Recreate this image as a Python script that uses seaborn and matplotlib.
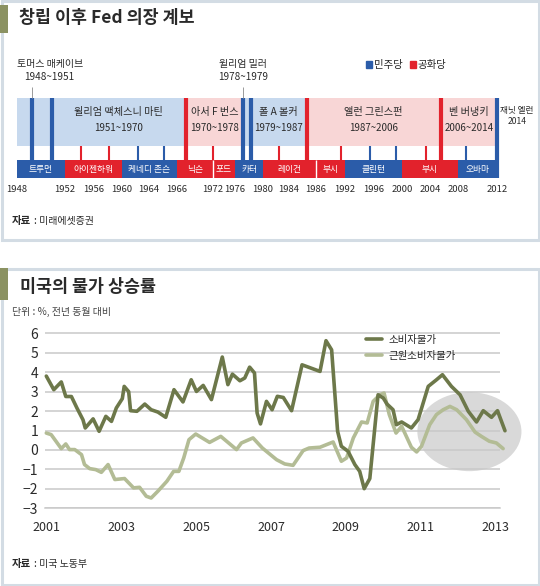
import numpy as np
import pandas as pd
import matplotlib.pyplot as plt
import seaborn as sns
from matplotlib.patches import Rectangle, Ellipse, Patch

sns.set_style("white")
plt.rcParams['font.family'] = ['Noto Sans CJK KR', 'DejaVu Sans']

# --- data: Fed chair timeline (years as printed on the graphic's own uneven axis) ---
tick_years = [1948, 1952, 1956, 1960, 1964, 1966, 1972, 1976, 1980, 1984,
              1986, 1992, 1996, 2000, 2004, 2008, 2012]

pres_names = ['트루먼', '아이젠하워', '케네디 존슨', '닉슨', '포드', '카터',
              '레이건', '부시', '클린턴', '부시', '오바마']
pres_party = ['D', 'R', 'D', 'R', 'R', 'D', 'R', 'R', 'D', 'R', 'D']
pres_start = [1948, 1952, 1960, 1966, 1972, 1976, 1980, 1986, 1992, 2000, 2008]
pres_end = [1952, 1960, 1966, 1972, 1976, 1980, 1986, 1992, 2000, 2008, 2012]

chair_names = ['토머스 매케이브', '윌리엄 맥체스니 마틴', '아서 F 번스', '윌리엄 밀러',
               '폴 A 볼커', '앨런 그린스펀', '벤 버냉키', '재닛 옐런']
chair_terms = ['1948~1951', '1951~1970', '1970~1978', '1978~1979',
               '1979~1987', '1987~2006', '2006~2014', '2014']
chair_party = ['D', 'D', 'R', 'D', 'D', 'R', 'R', 'D']
chair_mark = [1949.3, 1950.9, 1967.5, 1977.2, 1978.3, 1985.3, 2005.5, 2012]

term_mark = [1954.2, 1958.2, 1962.4, 1965.1, 1972.0, 1982.5, 1991.2,
             1995.4, 1999.1, 2003.4, 2008.8]
term_party = ['R', 'R', 'D', 'D', 'R', 'R', 'R', 'D', 'D', 'R', 'D']

# --- data: US inflation, % y/y ---
cpi_t = [2001.0, 2001.2, 2001.4, 2001.52, 2001.67, 2001.82, 2001.98, 2002.04, 2002.25,
         2002.41, 2002.59, 2002.74, 2002.87, 2003.03, 2003.08, 2003.2, 2003.25, 2003.42,
         2003.63, 2003.8, 2003.98, 2004.19, 2004.41, 2004.65, 2004.87, 2005.01, 2005.19,
         2005.41, 2005.7, 2005.85, 2005.97, 2006.17, 2006.3, 2006.43, 2006.56, 2006.63,
         2006.72, 2006.88, 2007.03, 2007.17, 2007.33, 2007.55, 2007.83, 2008.31, 2008.47,
         2008.62, 2008.78, 2008.88, 2009.06, 2009.24, 2009.37, 2009.49, 2009.64, 2009.86,
         2010.0, 2010.1, 2010.26, 2010.35, 2010.49, 2010.75, 2010.93, 2011.2, 2011.42,
         2011.58, 2011.82, 2012.05, 2012.27, 2012.49, 2012.67, 2012.89, 2013.05, 2013.25]
cpi_v = [3.8, 3.1, 3.5, 2.75, 2.75, 2.15, 1.55, 1.13, 1.6,
         0.96, 1.73, 1.47, 2.16, 2.64, 3.27, 3.0, 2.02, 1.99,
         2.36, 2.07, 1.95, 1.68, 3.1, 2.47, 3.61, 3.01, 3.32,
         2.59, 4.78, 3.36, 3.9, 3.56, 3.7, 4.26, 3.96, 1.9,
         1.34, 2.5, 2.07, 2.76, 2.7, 2.02, 4.38, 4.04, 5.62,
         5.15, 0.96, 0.19, -0.07, -0.75, -1.1, -1.99, -1.47, 2.84,
         2.67, 2.36, 2.07, 1.3, 1.44, 1.13, 1.56, 3.27, 3.61,
         3.87, 3.27, 2.84, 1.99, 1.44, 2.02, 1.68, 2.02, 0.99]

core_t = [2001.0, 2001.13, 2001.4, 2001.52, 2001.62, 2001.76, 2001.94, 2002.02, 2002.16,
          2002.32, 2002.47, 2002.65, 2002.83, 2003.09, 2003.33, 2003.49, 2003.67, 2003.8,
          2003.98, 2004.22, 2004.4, 2004.54, 2004.67, 2004.81, 2004.99, 2005.36, 2005.66,
          2006.08, 2006.21, 2006.52, 2006.77, 2007.15, 2007.37, 2007.59, 2007.86, 2008.02,
          2008.31, 2008.66, 2008.88, 2009.02, 2009.2, 2009.42, 2009.57, 2009.73, 2009.91,
          2010.02, 2010.16, 2010.34, 2010.49, 2010.75, 2010.89, 2011.02, 2011.24, 2011.42,
          2011.6, 2011.78, 2011.96, 2012.22, 2012.45, 2012.62, 2012.83, 2013.02, 2013.2]
core_v = [0.87, 0.79, 0.07, 0.31, 0.02, 0.02, -0.24, -0.75, -0.96,
          -1.01, -1.15, -0.75, -1.52, -1.47, -1.95, -1.92, -2.38, -2.47,
          -2.12, -1.61, -1.1, -1.1, -0.41, 0.53, 0.82, 0.39, 0.7,
          0.02, 0.36, 0.62, 0.1, -0.5, -0.72, -0.79, -0.03, 0.1,
          0.14, 0.41, -0.58, -0.41, 0.62, 1.44, 1.39, 2.5, 2.84,
          2.93, 1.82, 0.87, 1.22, 0.14, -0.1, 0.19, 1.3, 1.82,
          2.07, 2.24, 2.07, 1.56, 0.92, 0.7, 0.45, 0.36, 0.07]
series_names = ['소비자물가', '근원소비자물가']

# --- styles / layout ---
BLUE, RED = '#2b5ca9', '#e2222c'
LBLUE, PINK = '#c7d9ee', '#f8d6d6'
DARK, LIGHT = '#6d784a', '#b3bc95'
FRAME, OLIVE = '#d3dce4', '#8b9262'
TXT = '#2a2a2a'
W, H = 540, 586

fig = plt.figure(figsize=(W / 100, H / 100), dpi=100)


def fx(px):
    return px / W


def fy(py):
    return 1 - py / H


# panel frames and olive title tabs
for top, bot in [(0, 241), (267, 586)]:
    fig.add_artist(Rectangle((fx(1.5), fy(bot - 1.5)), fx(W - 3), (bot - top - 3) / H,
                             transform=fig.transFigure, fill=False, ec=FRAME, lw=2.2))
for top, bot in [(5, 33), (268, 300)]:
    fig.add_artist(Rectangle((0, fy(bot)), fx(8), (bot - top) / H,
                             transform=fig.transFigure, color=OLIVE, lw=0))

fig.text(fx(19), fy(18), '창립 이후 Fed 의장 계보', fontsize=12.5, fontweight='bold',
         va='center', color=TXT)
fig.text(fx(20), fy(287), '미국의 물가 상승률', fontsize=12.5, fontweight='bold',
         va='center', color=TXT)

# ---------------- timeline ----------------
# the graphic's year axis is schematic: each printed year sits at its own spot
tick_px = [16.5, 65, 93.5, 122, 149, 177, 213, 235, 263, 289, 316, 345, 374, 402, 430, 458, 497]
scale_years = [1940] + tick_years + [2020]
scale_px = [-80.5] + tick_px + [575]


def fwd(x):
    return np.interp(x, scale_years, scale_px)


def inv(p):
    return np.interp(p, scale_px, scale_years)


ax_t = fig.add_axes([0, fy(241), 1, 241 / H])
ax_t.set_xscale('function', functions=(fwd, inv))
ax_t.set_xlim(inv(0), inv(W))
ax_t.set_ylim(241, 0)
ax_t.axis('off')

band_top, band_bot = 98, 146
strip_top, strip_bot = 160, 177.5
pc = {'D': BLUE, 'R': RED}

band_start = [tick_years[0]] + chair_mark[1:-1]
band_end = chair_mark[1:]
for s, e, p in zip(band_start, band_end, chair_party[:-1]):
    ax_t.barh((band_top + band_bot) / 2, e - s, left=s, height=band_bot - band_top,
              color=LBLUE if p == 'D' else PINK, lw=0)

for s, e, p in zip(pres_start, pres_end, pres_party):
    ax_t.barh((strip_top + strip_bot) / 2, e - s, left=s, height=strip_bot - strip_top,
              color=pc[p], lw=0)
for i in range(1, len(pres_start)):
    if pres_party[i] == pres_party[i - 1]:
        ax_t.vlines(pres_start[i], strip_top, strip_bot, colors='white', lw=1)

ax_t.vlines(term_mark, band_bot, strip_top, colors=[pc[p] for p in term_party], lw=1.5)
ax_t.vlines(chair_mark, band_top, strip_bot, colors=[pc[p] for p in chair_party], lw=3)

for s, e, n in zip(pres_start, pres_end, pres_names):
    xm = inv((fwd(s) + fwd(e)) / 2)
    ax_t.text(xm, (strip_top + strip_bot) / 2 + 0.5, n, color='white', fontsize=6.3,
              ha='center', va='center')

for yr in tick_years:
    ax_t.text(yr, 190, str(yr), fontsize=6.8, ha='center', va='center', color=TXT)

# chair names inside the bands
for i in [1, 2, 4, 5, 6]:
    xm = inv((fwd(chair_mark[i]) + fwd(chair_mark[i + 1])) / 2)
    ax_t.text(xm, 112.5, chair_names[i], fontsize=7.3, ha='center', va='center', color=TXT)
    ax_t.text(xm, 128, chair_terms[i], fontsize=7, ha='center', va='center', color=TXT)

# short-tenure chairs labelled above with leader lines
for i, ha in [(0, 'left'), (3, 'center')]:
    x = tick_years[0] if ha == 'left' else chair_mark[i]
    ax_t.text(x, 70.5, chair_names[i] + '\n' + chair_terms[i], fontsize=7.2, ha=ha,
              va='center', multialignment='center', linespacing=1.4, color=TXT)
    ax_t.vlines(chair_mark[i], 87, band_top, colors='#9a9a9a', lw=0.7)

ax_t.text(inv(fwd(chair_mark[7]) + 3), 116, chair_names[7] + '\n' + chair_terms[7],
          fontsize=6.2, ha='left', va='center', multialignment='center',
          linespacing=1.4, color=TXT)

ax_t.legend(handles=[Patch(color=BLUE), Patch(color=RED)], labels=['민주당', '공화당'],
            loc='center left', bbox_to_anchor=(fx(366), fy(65)), bbox_transform=fig.transFigure,
            ncol=2, frameon=False, fontsize=7.5, handlelength=0.6, handleheight=0.6,
            handletextpad=0.15, columnspacing=0.7, borderpad=0, borderaxespad=0)

fig.text(fx(12), fy(221), '자료', fontsize=7.5, fontweight='bold', va='center', color=TXT)
fig.text(fx(34), fy(221), ': 미래에셋증권', fontsize=7.2, va='center', color=TXT)

# ---------------- inflation chart ----------------
fig.text(fx(12), fy(312), '단위 : %, 전년 동월 대비', fontsize=7.2, va='center', color='#444444')

ax = fig.add_axes([fx(45), fy(508.3), fx(455), (508.3 - 330.4) / H])
ax.set_facecolor('none')

df = pd.concat([
    pd.DataFrame({'연도': cpi_t, '상승률': cpi_v, '구분': series_names[0]}),
    pd.DataFrame({'연도': core_t, '상승률': core_v, '구분': series_names[1]}),
])
sns.lineplot(data=df, x='연도', y='상승률', hue='구분', hue_order=series_names,
             palette={series_names[0]: DARK, series_names[1]: LIGHT},
             estimator=None, sort=False, lw=2.6, ax=ax)
for ln in ax.lines:
    ln.set_clip_on(False)
ax.lines[0].set_zorder(3)

ax.add_patch(Ellipse((2012.3, 0.94), 2.78, 4.06, fc='#d9d9d9', ec='none',
                     zorder=0.3, clip_on=False))

ax.set_xlim(2000.965, 2013.117)
ax.set_ylim(-3, 6.15)
ax.set_xticks(list(range(2001, 2014, 2)))
ax.set_yticks(list(range(-3, 7)))
ax.set_xlabel('')
ax.set_ylabel('')
ax.set_axisbelow(True)
ax.grid(axis='y', color='#c9c9c9', lw=1.1)
ax.grid(axis='x', visible=False)
for side in ['top', 'right', 'left']:
    ax.spines[side].set_visible(False)
ax.spines['bottom'].set_color('#c9c9c9')
ax.spines['bottom'].set_linewidth(1.1)
ax.tick_params(axis='x', length=6.5, width=1.0, color='#b8b8b8', pad=3,
               labelsize=9, labelcolor=TXT)
ax.tick_params(axis='y', length=0, pad=5, labelsize=10, labelcolor=TXT)

handles, labels = ax.get_legend_handles_labels()
ax.legend(handles, labels, loc='upper left', bbox_to_anchor=(fx(366), fy(335)),
          bbox_transform=fig.transFigure, frameon=False, fontsize=7.5,
          handlelength=1.5, handletextpad=0.7, labelspacing=0.55,
          borderpad=0, borderaxespad=0)

fig.text(fx(12), fy(564), '자료', fontsize=7.5, fontweight='bold', va='center', color=TXT)
fig.text(fx(34), fy(564), ': 미국 노동부', fontsize=7.2, va='center', color=TXT)

fig.savefig('out.png', dpi=100, facecolor='white')
